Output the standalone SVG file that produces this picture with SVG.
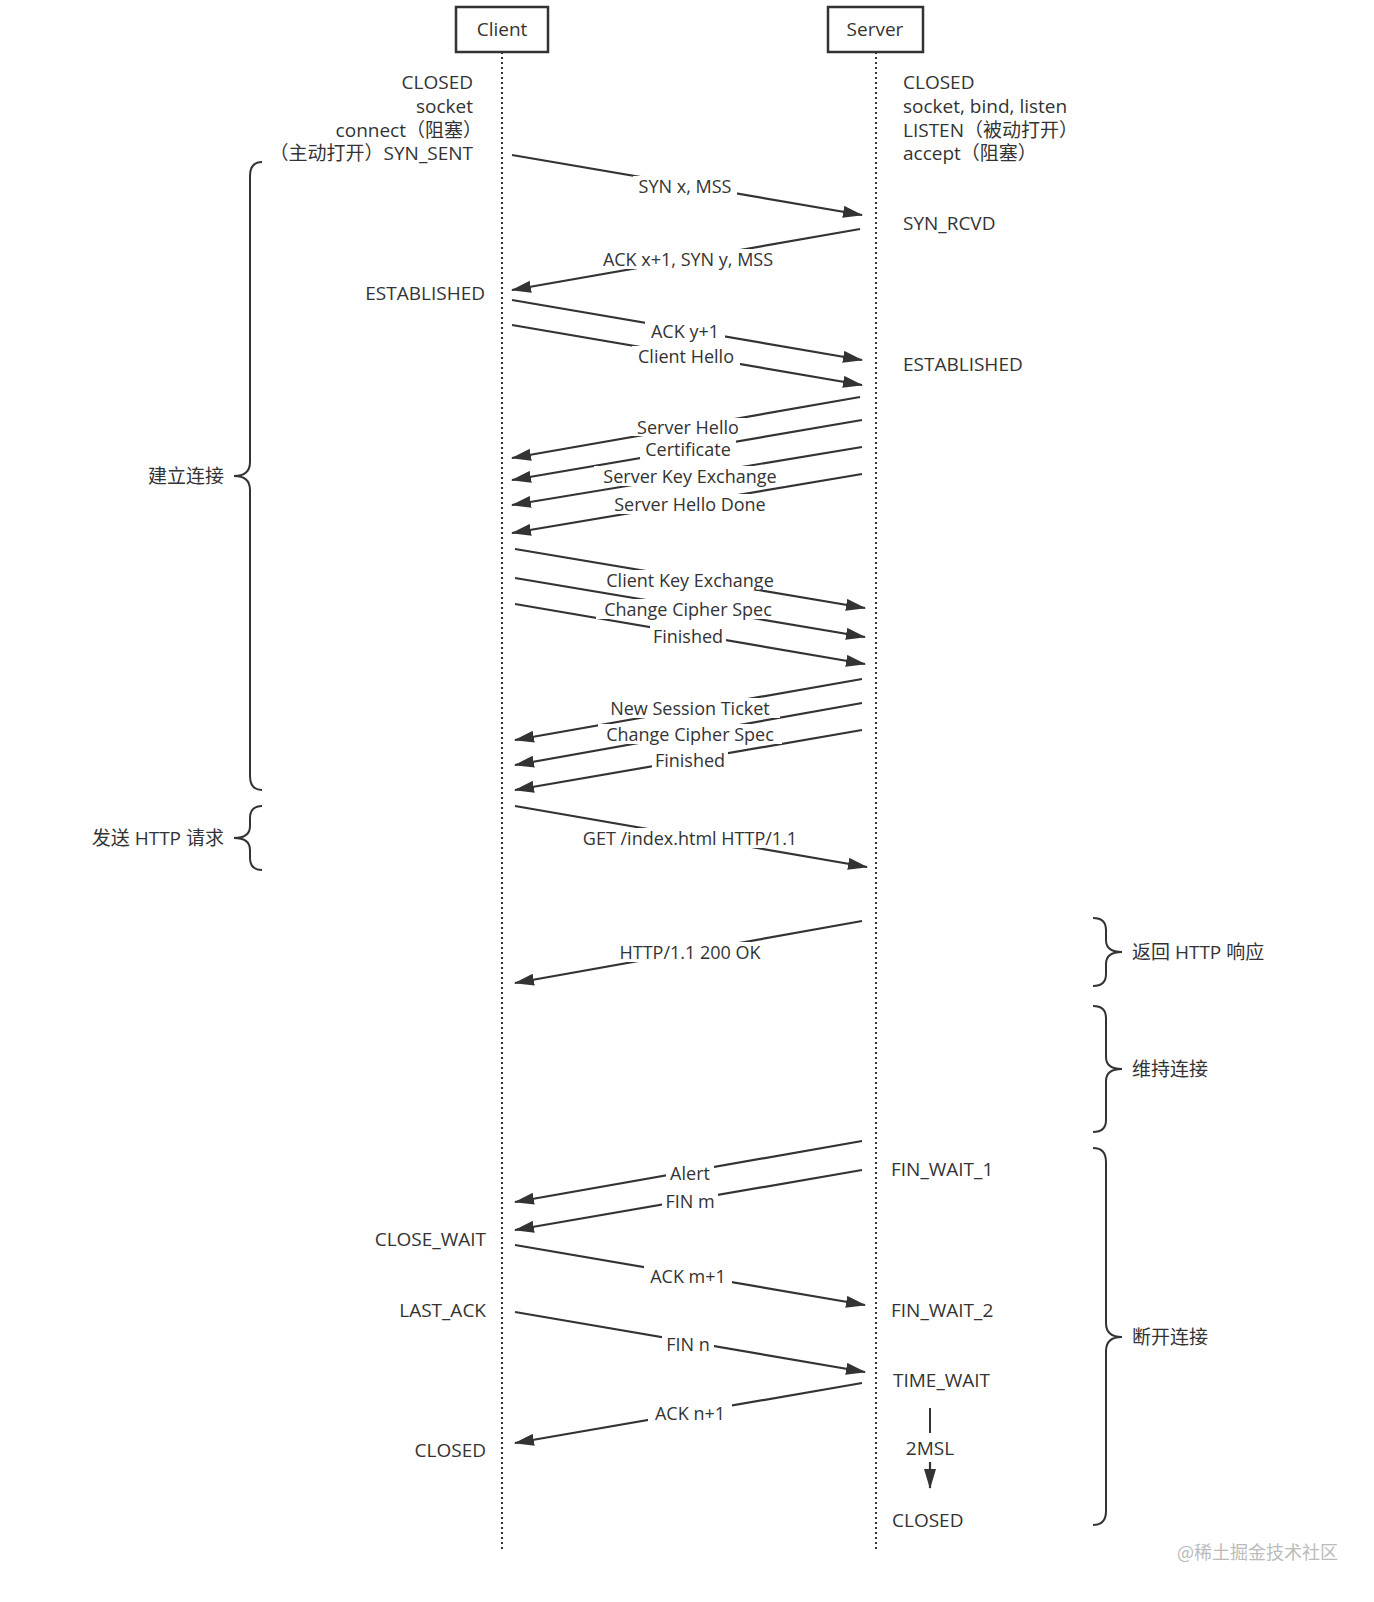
<svg xmlns="http://www.w3.org/2000/svg" width="1374" height="1602" viewBox="0 0 1374 1602">
<defs>
<marker id="ah" viewBox="0 0 20 12" refX="19" refY="6" markerWidth="20" markerHeight="12" markerUnits="userSpaceOnUse" orient="auto"><path d="M0,0 L20,6 L0,12 Z" fill="#333"/></marker>
<style>
text{font-family:"Open Sans","Liberation Sans","Noto Sans CJK SC",sans-serif;font-size:19px;fill:#333}
.m{text-anchor:middle}.r{text-anchor:end}
.lbl{text-anchor:middle;font-size:18px}
.bg{fill:#fff}
.ln{stroke:#333;stroke-width:2;fill:none}
.arr{stroke:#333;stroke-width:2.2;fill:none;marker-end:url(#ah)}
.life{stroke:#333;stroke-width:2;stroke-dasharray:2 3}
.box{fill:#fff;stroke:#333;stroke-width:2.5}
</style>
</defs>
<rect width="1374" height="1602" fill="#fff"/>
<g id="client"><line class="life" x1="502" y1="52" x2="502" y2="1550"/><rect class="box" x="456" y="7" width="92" height="45"/><text class="m" x="502" y="36">Client</text></g>
<g id="server"><line class="life" x1="876" y1="52" x2="876" y2="1550"/><rect class="box" x="828" y="7" width="95" height="45"/><text class="m" x="875" y="36">Server</text></g>
<g id="client-states">
<text class="r" x="473" y="89">CLOSED</text><text class="r" x="473" y="113">socket</text><text class="r" x="482" y="137">connect（阻塞）</text><text class="r" x="473" y="160">（主动打开）SYN_SENT</text>
<text class="r" x="485" y="300">ESTABLISHED</text><text class="r" x="486" y="1246">CLOSE_WAIT</text><text class="r" x="486" y="1317">LAST_ACK</text><text class="r" x="486" y="1457">CLOSED</text>
</g>
<g id="server-states">
<text x="903" y="89">CLOSED</text><text x="903" y="113">socket, bind, listen</text><text x="903" y="137">LISTEN（被动打开）</text><text x="903" y="160">accept（阻塞）</text>
<text x="903" y="230">SYN_RCVD</text><text x="903" y="371">ESTABLISHED</text><text x="891" y="1176">FIN_WAIT_1</text><text x="891" y="1317">FIN_WAIT_2</text><text x="893" y="1387">TIME_WAIT</text><text x="892" y="1527">CLOSED</text>
</g>
<g id="connectors">
<line class="arr" x1="512" y1="155" x2="862" y2="215"/>
<line class="arr" x1="860" y1="229" x2="512" y2="290"/>
<line class="arr" x1="512" y1="300" x2="862" y2="360"/>
<line class="arr" x1="512" y1="325" x2="862" y2="385"/>
<line class="arr" x1="860" y1="397" x2="512" y2="458"/>
<line class="arr" x1="862" y1="420" x2="512" y2="480"/>
<line class="arr" x1="862" y1="447" x2="512" y2="505"/>
<line class="arr" x1="862" y1="474" x2="512" y2="533"/>
<line class="arr" x1="515" y1="549" x2="865" y2="608"/>
<line class="arr" x1="515" y1="578" x2="865" y2="637"/>
<line class="arr" x1="515" y1="604" x2="865" y2="664"/>
<line class="arr" x1="862" y1="679" x2="515" y2="740"/>
<line class="arr" x1="862" y1="703" x2="515" y2="765"/>
<line class="arr" x1="862" y1="730" x2="515" y2="790"/>
<line class="arr" x1="515" y1="806" x2="867" y2="867"/>
<line class="arr" x1="862" y1="921" x2="515" y2="983"/>
<line class="arr" x1="862" y1="1141" x2="515" y2="1202"/>
<line class="arr" x1="862" y1="1170" x2="515" y2="1230"/>
<line class="arr" x1="515" y1="1245" x2="865" y2="1305"/>
<line class="arr" x1="515" y1="1312" x2="865" y2="1372"/>
<line class="arr" x1="862" y1="1383" x2="515" y2="1443"/>
<line class="ln" x1="930" y1="1408" x2="930" y2="1433"/>
<line class="arr" x1="930" y1="1462" x2="930" y2="1488"/>
</g>
<g id="labels">
<rect class="bg" x="633" y="176" width="104" height="20"/><text class="lbl" x="685" y="193">SYN x, MSS</text>
<rect class="bg" x="592" y="249" width="192" height="20"/><text class="lbl" x="688" y="266">ACK x+1, SYN y, MSS</text>
<rect class="bg" x="645" y="321" width="80" height="20"/><text class="lbl" x="685" y="338">ACK y+1</text>
<rect class="bg" x="632" y="346" width="108" height="20"/><text class="lbl" x="686" y="363">Client Hello</text>
<rect class="bg" x="630" y="418" width="116" height="18"/><text class="lbl" x="688" y="434">Server Hello</text>
<rect class="bg" x="640" y="440" width="96" height="19"/><text class="lbl" x="688" y="456">Certificate</text>
<rect class="bg" x="594" y="466" width="192" height="20"/><text class="lbl" x="690" y="483">Server Key Exchange</text>
<rect class="bg" x="605" y="494" width="170" height="20"/><text class="lbl" x="690" y="511">Server Hello Done</text>
<rect class="bg" x="596" y="570" width="188" height="20"/><text class="lbl" x="690" y="587">Client Key Exchange</text>
<rect class="bg" x="596" y="599" width="184" height="20"/><text class="lbl" x="688" y="616">Change Cipher Spec</text>
<rect class="bg" x="650" y="626" width="76" height="20"/><text class="lbl" x="688" y="643">Finished</text>
<rect class="bg" x="600" y="698" width="180" height="20"/><text class="lbl" x="690" y="715">New Session Ticket</text>
<rect class="bg" x="598" y="724" width="184" height="20"/><text class="lbl" x="690" y="741">Change Cipher Spec</text>
<rect class="bg" x="652" y="750" width="76" height="20"/><text class="lbl" x="690" y="767">Finished</text>
<rect class="bg" x="570" y="828" width="240" height="20"/><text class="lbl" x="690" y="845">GET /index.html HTTP/1.1</text>
<rect class="bg" x="609" y="942" width="162" height="20"/><text class="lbl" x="690" y="959">HTTP/1.1 200 OK</text>
<rect class="bg" x="666" y="1163" width="48" height="20"/><text class="lbl" x="690" y="1180">Alert</text>
<rect class="bg" x="662" y="1191" width="56" height="20"/><text class="lbl" x="690" y="1208">FIN m</text>
<rect class="bg" x="644" y="1266" width="88" height="20"/><text class="lbl" x="688" y="1283">ACK m+1</text>
<rect class="bg" x="662" y="1334" width="52" height="20"/><text class="lbl" x="688" y="1351">FIN n</text>
<rect class="bg" x="648" y="1403" width="84" height="20"/><text class="lbl" x="690" y="1420">ACK n+1</text>
<text class="m" x="930" y="1455">2MSL</text>
</g>
<g id="brace-establish"><path class="ln" d="M262,162 Q250,162 250,176 L250,462 Q250,476 234,476 Q250,476 250,490 L250,776 Q250,790 262,790"/><text class="r" x="224" y="483">建立连接</text></g>
<g id="brace-request"><path class="ln" d="M262,806 Q250,806 250,818 L250,826 Q250,838 234,838 Q250,838 250,850 L250,858 Q250,870 262,870"/><text class="r" x="224" y="845">发送 HTTP 请求</text></g>
<g id="brace-response"><path class="ln" d="M1093,918 Q1106,918 1106,930 L1106,940 Q1106,952 1122,952 Q1106,952 1106,964 L1106,974 Q1106,986 1093,986"/><text x="1132" y="959">返回 HTTP 响应</text></g>
<g id="brace-keep"><path class="ln" d="M1093,1006 Q1106,1006 1106,1018 L1106,1057 Q1106,1069 1122,1069 Q1106,1069 1106,1081 L1106,1120 Q1106,1132 1093,1132"/><text x="1132" y="1076">维持连接</text></g>
<g id="brace-close"><path class="ln" d="M1093,1148 Q1106,1148 1106,1162 L1106,1323 Q1106,1337 1122,1337 Q1106,1337 1106,1351 L1106,1511 Q1106,1525 1093,1525"/><text x="1132" y="1344">断开连接</text></g>
<text x="1338" y="1559" class="r" style="fill:#bbb;font-size:18px;font-family:'Noto Sans CJK SC',sans-serif">@稀土掘金技术社区</text>
</svg>
